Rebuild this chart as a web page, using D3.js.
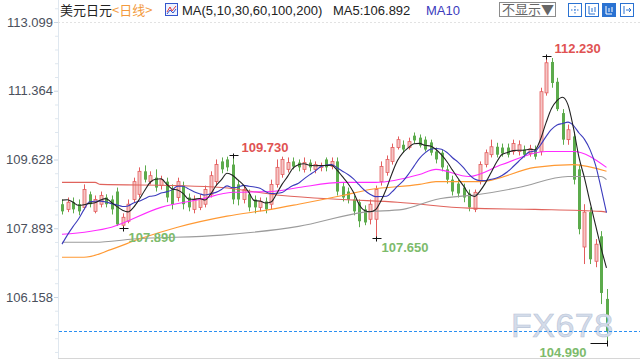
<!DOCTYPE html>
<html>
<head>
<meta charset="utf-8">
<script src="https://cdn.jsdelivr.net/npm/d3@7"></script>
<style>
body { margin: 0; background: #fff; }
svg { display: block; font-family: "Liberation Sans", Arial, "Noto Sans CJK SC", sans-serif; }
</style>
</head>
<body>
<div id="chart"></div>
<script>
// daily USD/JPY candles
var opens = [108.50,108.37,108.55,108.50,108.42,108.75,108.32,108.50,108.67,108.62,
  108.82,107.97,108.07,108.62,108.75,109.33,109.07,109.17,108.97,109.07,
  108.87,108.67,108.97,108.67,108.37,108.42,108.50,108.75,109.07,109.58,
  109.63,109.50,109.00,108.62,108.75,108.62,108.42,108.57,108.50,109.00,
  109.25,109.38,109.58,109.55,109.38,109.55,109.38,109.43,109.63,109.45,
  109.58,108.95,108.82,108.62,108.55,108.37,108.12,108.12,109.07,109.30,
  109.58,109.93,110.00,109.93,110.23,110.18,110.13,110.06,109.83,109.80,
  109.38,109.12,109.02,108.92,108.77,108.37,109.10,109.50,109.75,109.95,
  109.93,109.93,109.83,109.83,109.88,109.78,109.88,109.83,111.31,112.09,
  111.59,110.80,110.13,110.21,109.38,107.42,108.30,107.06,107.69,106.11]
var highs = [108.62,108.67,108.67,108.62,109.00,108.82,108.72,108.82,108.75,108.72,
  108.92,108.27,108.62,109.17,109.43,109.48,109.33,109.38,109.22,109.17,
  109.00,109.17,109.07,108.77,108.72,108.75,108.97,109.33,109.63,109.68,
  109.70,109.73,109.12,108.97,108.87,108.72,108.67,108.67,109.12,109.63,
  109.70,109.68,109.68,109.63,109.68,109.63,109.58,109.55,109.68,109.68,
  109.68,109.05,108.92,108.72,108.62,108.47,108.62,108.97,109.58,109.73,
  110.03,110.21,110.11,110.18,110.31,110.26,110.21,110.13,109.93,109.88,
  109.48,109.22,109.12,109.02,108.87,108.87,109.58,109.88,110.13,110.05,
  110.03,110.03,110.13,110.11,109.98,110.00,109.98,111.44,112.23,112.19,
  111.69,110.90,110.51,110.33,109.50,108.50,108.42,107.62,107.82,106.36]
var lows = [108.24,108.30,108.27,108.22,108.37,108.42,108.27,108.42,108.42,108.24,
  107.95,107.89,108.02,108.55,108.67,109.05,109.00,108.82,108.87,108.55,
  108.37,108.57,108.37,108.32,108.27,108.35,108.42,108.67,108.97,109.28,
  109.33,108.50,108.47,108.52,108.32,108.27,108.32,108.27,108.37,108.92,
  109.17,109.30,109.38,109.33,109.30,109.33,109.28,109.33,109.33,109.38,
  108.72,108.57,108.52,108.22,107.92,107.97,107.99,107.65,108.97,109.22,
  109.50,109.88,109.80,109.88,110.03,109.93,109.83,109.73,109.53,109.33,
  109.02,108.72,108.67,108.55,108.32,108.30,109.00,109.43,109.68,109.68,
  109.70,109.68,109.75,109.73,109.68,109.70,109.63,109.73,111.24,111.44,
  110.85,110.00,110.00,109.00,107.74,106.99,106.99,106.91,105.98,104.99]
var closes = [108.32,108.55,108.37,108.32,108.87,108.50,108.62,108.72,108.50,108.37,
  107.99,108.17,108.50,109.07,109.33,109.12,109.22,108.92,109.12,108.67,
  108.50,109.07,108.50,108.42,108.62,108.62,108.87,109.22,109.50,109.38,
  109.43,108.62,108.62,108.87,108.42,108.42,108.57,108.37,109.00,109.43,
  109.63,109.55,109.45,109.43,109.55,109.43,109.50,109.48,109.43,109.58,
  108.82,108.67,108.62,108.32,108.07,108.04,108.50,108.87,109.45,109.63,
  109.93,110.13,109.88,110.08,110.11,109.98,109.88,109.80,109.63,109.43,
  109.12,108.82,108.77,108.67,108.42,108.80,109.50,109.80,109.95,109.75,
  109.78,109.75,110.03,110.00,109.75,109.90,109.70,111.34,112.07,111.56,
  110.90,110.13,110.38,109.12,107.87,108.30,107.11,107.49,106.26,105.30]
// closes before the first visible candle (needed by MA5 / MA10)
var prevCloses = [106.2, 106.3, 106.4, 106.5, 106.5, 108.5, 108.7, 108.7, 108.8]

// long averages: candle index -> value
var ma30Idx = [0, 9, 18, 25, 31, 38, 43, 51, 57, 65, 68, 74, 80, 88, 93, 99]
var ma30Val = [107.74, 107.92, 108.42, 108.62, 108.80, 108.82, 108.92, 109.05, 109.05, 109.25, 109.38, 109.20, 109.50, 109.83, 109.83, 109.43]
var ma60Idx = [0, 4, 9, 14, 21, 30, 38, 43, 51, 56, 65, 68, 76, 86, 93, 99]
var ma60Val = [107.16, 107.16, 107.36, 107.62, 107.92, 108.20, 108.37, 108.50, 108.72, 108.87, 109.00, 109.07, 109.07, 109.43, 109.50, 109.33]
var ma100Idx = [0, 6, 13, 29, 43, 55, 62, 68, 76, 83, 92, 98, 99]
var ma100Val = [107.54, 107.54, 107.62, 107.72, 107.94, 108.30, 108.37, 108.62, 108.75, 108.92, 109.20, 109.20, 109.12]
var ma200Idx = [0, 6, 7, 21, 29, 40, 51, 61, 74, 86, 98, 99]
var ma200Val = [109.05, 109.05, 109.00, 108.97, 108.92, 108.72, 108.62, 108.55, 108.40, 108.37, 108.32, 108.30]

var yTicks = [113.099, 111.364, 109.628, 107.893, 106.158]
var lastPrice = 105.30
var ma5Last = '106.892'

// marked highs and lows: candle index, value, kind
var markIdx = [31, 88, 11, 57, 99]
var markVal = [109.730, 112.230, 107.890, 107.650, 104.990]
var markKind = ['high', 'high', 'low', 'low', 'low']

var chart_width = 640
var chart_height = 360
var axis_x = 58

var svg = d3.select('#chart')
  .append('svg')
  .attr('width', chart_width)
  .attr('height', chart_height)

var y_scale = d3.scaleLinear()
  .domain([yTicks[0], yTicks[yTicks.length - 1]])
  .range([22, 297])

var x_scale = d3.scaleLinear()
  .domain([0, closes.length - 1])
  .range([62, 606.5])

// frame
svg.append('line')
  .attr('x1', axis_x + 0.5).attr('x2', axis_x + 0.5)
  .attr('y1', 0).attr('y2', 358)
  .attr('stroke', '#dfe7ef')
svg.append('line')
  .attr('x1', axis_x).attr('x2', chart_width)
  .attr('y1', 358.5).attr('y2', 358.5)
  .attr('stroke', '#d6d6d6')
svg.append('line')
  .attr('x1', axis_x).attr('x2', chart_width)
  .attr('y1', y_scale(yTicks[0]) + 0.5).attr('y2', y_scale(yTicks[0]) + 0.5)
  .attr('stroke', '#e2e2e2')
  .attr('stroke-dasharray', '2,2')

// y axis
var step = (yTicks[0] - yTicks[1]) / 5
var minor = []
d3.range(-1, 8).forEach(function(k) {
  for (var m = 1; m < 5; m++) minor.push(yTicks[0] - k * (yTicks[0] - yTicks[1]) - m * step)
})
var minorAxis = svg.append('g')
  .attr('transform', 'translate(' + axis_x + ',0)')
  .call(d3.axisLeft(y_scale).tickValues(minor).tickSize(3).tickFormat(''))
minorAxis.select('.domain').remove()
minorAxis.selectAll('line').attr('stroke', '#dfe7ef')

var yAxis = svg.append('g')
  .attr('transform', 'translate(' + axis_x + ',0)')
  .call(d3.axisLeft(y_scale).tickValues(yTicks).tickSize(4).tickPadding(1).tickFormat(d3.format('.3f')))
yAxis.select('.domain').remove()
yAxis.selectAll('line').attr('stroke', '#c9d6e3')
yAxis.selectAll('text')
  .attr('fill', '#4a505c')
  .style('font-size', '13px')
  .style('font-family', '"Liberation Sans", Arial, sans-serif')

// candles
var candles = svg.append('g')
closes.forEach(function(c, i) {
  var up = c >= opens[i]
  var col = up ? '#e35d5d' : '#5cab4c'
  var x = Math.round(x_scale(i)) + 0.5
  candles.append('line')
    .attr('x1', x).attr('x2', x)
    .attr('y1', y_scale(highs[i])).attr('y2', y_scale(lows[i]))
    .attr('stroke', col)
  var top = y_scale(Math.max(c, opens[i]))
  var bot = y_scale(Math.min(c, opens[i]))
  candles.append('rect')
    .attr('x', x - 1.5)
    .attr('y', top)
    .attr('width', 3)
    .attr('height', Math.max(1, bot - top))
    .attr('fill', up ? '#f5c6c6' : '#5cab4c')
    .attr('stroke', col)
    .attr('stroke-width', up ? 0.8 : 0)
})

// moving averages
var allCloses = prevCloses.concat(closes)
function movingAvg(n) {
  return closes.map(function(c, i) {
    var j = i + prevCloses.length
    return d3.mean(allCloses.slice(j - n + 1, j + 1))
  })
}
var ma5 = movingAvg(5)
var ma10 = movingAvg(10)

var line = d3.line()
  .x(function(d) { return x_scale(d[0]) })
  .y(function(d) { return y_scale(d[1]) })
  .curve(d3.curveMonotoneX)

function pairs(idx, vals) {
  return idx.map(function(k, j) { return [k, vals[j]] })
}

var maSeries = [
  { pts: pairs(ma200Idx, ma200Val), color: '#e0635c' },
  { pts: pairs(ma100Idx, ma100Val), color: '#9c9c9c' },
  { pts: pairs(ma60Idx, ma60Val), color: '#ff9933' },
  { pts: pairs(ma30Idx, ma30Val), color: '#ff2bff' },
  { pts: ma10.map(function(v, i) { return [i, v] }), color: '#3b3bbd' },
  { pts: ma5.map(function(v, i) { return [i, v] }), color: '#222222' }
]
svg.append('g').selectAll('path')
  .data(maSeries)
  .enter()
  .append('path')
  .attr('d', function(d) { return line(d.pts) })
  .attr('fill', 'none')
  .attr('stroke', function(d) { return d.color })
  .attr('stroke-width', 1.1)

// watermark
svg.append('text')
  .attr('x', 511).attr('y', 337)
  .text('FX678')
  .attr('fill', '#d4dcea')
  .attr('stroke', '#b9c5d8')
  .attr('stroke-width', 0.6)
  .style('font-size', '34px')
  .style('letter-spacing', '0.5px')

// last price line
svg.append('line')
  .attr('x1', axis_x + 1).attr('x2', chart_width)
  .attr('y1', Math.round(y_scale(lastPrice)) + 0.5).attr('y2', Math.round(y_scale(lastPrice)) + 0.5)
  .attr('stroke', '#2b8ff2')
  .attr('stroke-width', 1.2)
  .attr('stroke-dasharray', '3,2')

// high / low markers
markIdx.forEach(function(k, j) {
  var x = Math.round(x_scale(k)) + 0.5
  var y = Math.round(y_scale(markVal[j])) + 0.5
  var hi = markKind[j] === 'high'
  var col = hi ? '#e05252' : '#7dbb6c'
  var label = svg.append('text')
    .text(d3.format('.3f')(markVal[j]))
    .attr('fill', col)
    .style('font-size', '13px')
    .style('font-weight', 'bold')
  if (k === closes.length - 1) {
    svg.append('line').attr('x1', x - 17).attr('x2', x).attr('y1', y).attr('y2', y).attr('stroke', '#111')
    svg.append('line').attr('x1', x).attr('x2', x).attr('y1', y - 3).attr('y2', y + 3).attr('stroke', '#111')
    label.attr('x', x - 21).attr('y', y + 13).attr('text-anchor', 'end')
  } else {
    svg.append('line').attr('x1', x - 4).attr('x2', x + 5).attr('y1', y).attr('y2', y).attr('stroke', '#111')
    svg.append('line').attr('x1', x).attr('x2', x).attr('y1', y - 2).attr('y2', y + 3).attr('stroke', '#111')
    if (hi) label.attr('x', x + 8).attr('y', y - 4)
    else label.attr('x', x + 5).attr('y', y + 13)
  }
})

// header
var head = svg.append('g').style('font-size', '13px')
head.append('text').attr('x', 60).attr('y', 15).text('美元日元')
  .attr('fill', '#222').style('font-family', '"Noto Sans CJK SC", sans-serif')
head.append('text').attr('x', 112).attr('y', 15).text('<日线>')
  .attr('fill', '#f39a3d').style('font-family', '"Noto Sans CJK SC", sans-serif')
var icon = head.append('g').attr('transform', 'translate(165,3)')
icon.append('rect').attr('x', 0.5).attr('y', 0.5).attr('width', 12).attr('height', 12)
  .attr('fill', '#eef2ff').attr('stroke', '#3355cc')
icon.append('polyline').attr('points', '2,9 5,4 7,8 11,3').attr('fill', 'none').attr('stroke', '#e23b3b')
icon.append('polyline').attr('points', '2,11 5,7 8,10 11,6').attr('fill', 'none').attr('stroke', '#3355cc')
head.append('text').attr('x', 182).attr('y', 15).text('MA(5,10,30,60,100,200)').attr('fill', '#222')
head.append('text').attr('x', 333).attr('y', 15).text('MA5:' + ma5Last).attr('fill', '#222')
head.append('text').attr('x', 426).attr('y', 15).text('MA10').attr('fill', '#3b3bbd')

// toolbar on the right
head.append('rect').attr('x', 499.5).attr('y', 2.5).attr('width', 56).attr('height', 14)
  .attr('fill', '#fff').attr('stroke', '#8c8c8c')
head.append('text').attr('x', 502).attr('y', 14).text('不显示▼')
  .attr('fill', '#666').style('font-family', '"Noto Sans CJK SC", sans-serif')
var btnX = [568, 585, 602, 620]
btnX.forEach(function(bx, j) {
  var g = head.append('g').attr('transform', 'translate(' + bx + ',3)')
  var filled = j === 2
  g.append('rect').attr('x', 0.5).attr('y', 0.5).attr('width', 13).attr('height', 13)
    .attr('fill', filled ? '#2a72d2' : '#fff').attr('stroke', '#2a72d2')
  var gc = filled ? '#fff' : '#2a72d2'
  if (j === 0) {
    g.append('path').attr('d', 'M7,3V11M3,7H11').attr('stroke', gc).attr('stroke-dasharray', '1.5,1.5')
  } else if (j === 3) {
    g.append('path').attr('d', 'M4,3V11M6,7H11M9,5L11,7L9,9').attr('stroke', gc).attr('fill', 'none')
  } else {
    g.append('path').attr('d', 'M4,3V11H10M7,5V9M10,4V9').attr('stroke', gc).attr('fill', 'none')
  }
})
</script>
</body>
</html>
